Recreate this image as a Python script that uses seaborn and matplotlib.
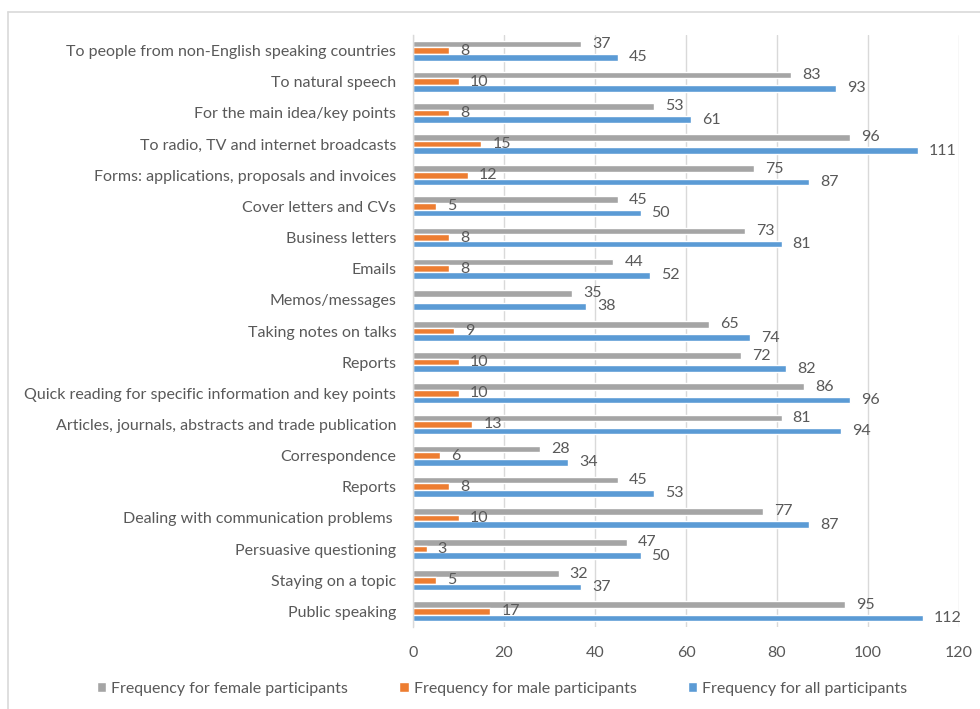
import numpy as np
import pandas as pd
import matplotlib
matplotlib.use("Agg")
import matplotlib.pyplot as plt
from matplotlib.lines import Line2D
import seaborn as sns

categories = [
    "To people from non-English speaking countries",
    "To natural speech",
    "For the main idea/key points",
    "To radio, TV and internet broadcasts",
    "Forms: applications, proposals and invoices",
    "Cover letters and CVs",
    "Business letters",
    "Emails",
    "Memos/messages",
    "Taking notes on talks",
    "Reports",
    "Quick reading for specific information and key points",
    "Articles, journals, abstracts and trade publication",
    "Correspondence",
    "Reports",
    "Dealing with communication problems ",
    "Persuasive questioning",
    "Staying on a topic",
    "Public speaking",
]
female = [37, 83, 53, 96, 75, 45, 73, 44, 35, 65, 72, 86, 81, 28, 45, 77, 47, 32, 95]
male = [8, 10, 8, 15, 12, 5, 8, 8, np.nan, 9, 10, 10, 13, 6, 8, 10, 3, 5, 17]
total = [45, 93, 61, 111, 87, 50, 81, 52, 38, 74, 82, 96, 94, 34, 53, 87, 50, 37, 112]

series_names = [
    "Frequency for female participants",
    "Frequency for male participants",
    "Frequency for all participants",
]
colors = ["#A5A5A5", "#ED7D31", "#5B9BD5"]
x_ticks = [0, 20, 40, 60, 80, 100, 120]

# Long-form table; a row key keeps the two "Reports" rows apart
keys = [f"{i:02d}" for i in range(len(categories))]
df = pd.concat([
    pd.DataFrame({"key": keys, "value": vals, "series": name})
    for vals, name in zip([female, male, total], series_names)
], ignore_index=True)

sns.set_theme(style="white")
plt.rcParams["font.family"] = ["Lato", "DejaVu Sans"]
text_color = "#595959"

fig = plt.figure(figsize=(9.8, 7.09), dpi=100)
ax = fig.add_axes([413 / 980, 1 - 627 / 709, 546 / 980, 592 / 709])

sns.barplot(
    data=df, x="value", y="key", hue="series", orient="h",
    order=keys, hue_order=series_names, palette=colors,
    width=0.64, dodge=True, saturation=1, ax=ax, legend=True,
)

for container in ax.containers:
    labels = ["" if np.isnan(v) else f"{v:g}" for v in container.datavalues]
    ax.bar_label(container, labels=labels, padding=8, fontsize=11.5,
                 color=text_color, label_type="edge")

ax.set_xlim(0, 120)
ax.set_xticks(x_ticks)
ax.set_xticklabels([str(t) for t in x_ticks])
ax.set_yticks(range(len(categories)))
ax.set_yticklabels(categories)
ax.set_xlabel("")
ax.set_ylabel("")
ax.tick_params(axis="both", length=0, labelsize=11.5, labelcolor=text_color)
ax.tick_params(axis="x", pad=14)
ax.tick_params(axis="y", pad=12)
ax.grid(axis="x", color="#D9D9D9", linewidth=1)
ax.set_axisbelow(True)
for side in ["top", "right", "bottom"]:
    ax.spines[side].set_visible(False)
ax.spines["left"].set_color("#D9D9D9")
ax.spines["left"].set_linewidth(1)

handles, labels = ax.get_legend_handles_labels()
ax.get_legend().remove()
fig.legend(
    handles, labels, loc="center", bbox_to_anchor=(502 / 980, 1 - 689 / 709),
    ncol=3, frameon=False, fontsize=11.5, labelcolor=text_color,
    handlelength=0.6, handleheight=0.6, handletextpad=0.3, columnspacing=3.2,
)

# Chart area border along the top and left edges
fig.add_artist(Line2D([8 / 980, 8 / 980], [0, 1 - 12 / 709],
                      transform=fig.transFigure, color="#D9D9D9", linewidth=1.2))
fig.add_artist(Line2D([8 / 980, 1], [1 - 12 / 709, 1 - 12 / 709],
                      transform=fig.transFigure, color="#D9D9D9", linewidth=1.2))

fig.savefig("out.png", dpi=100, facecolor="white")
